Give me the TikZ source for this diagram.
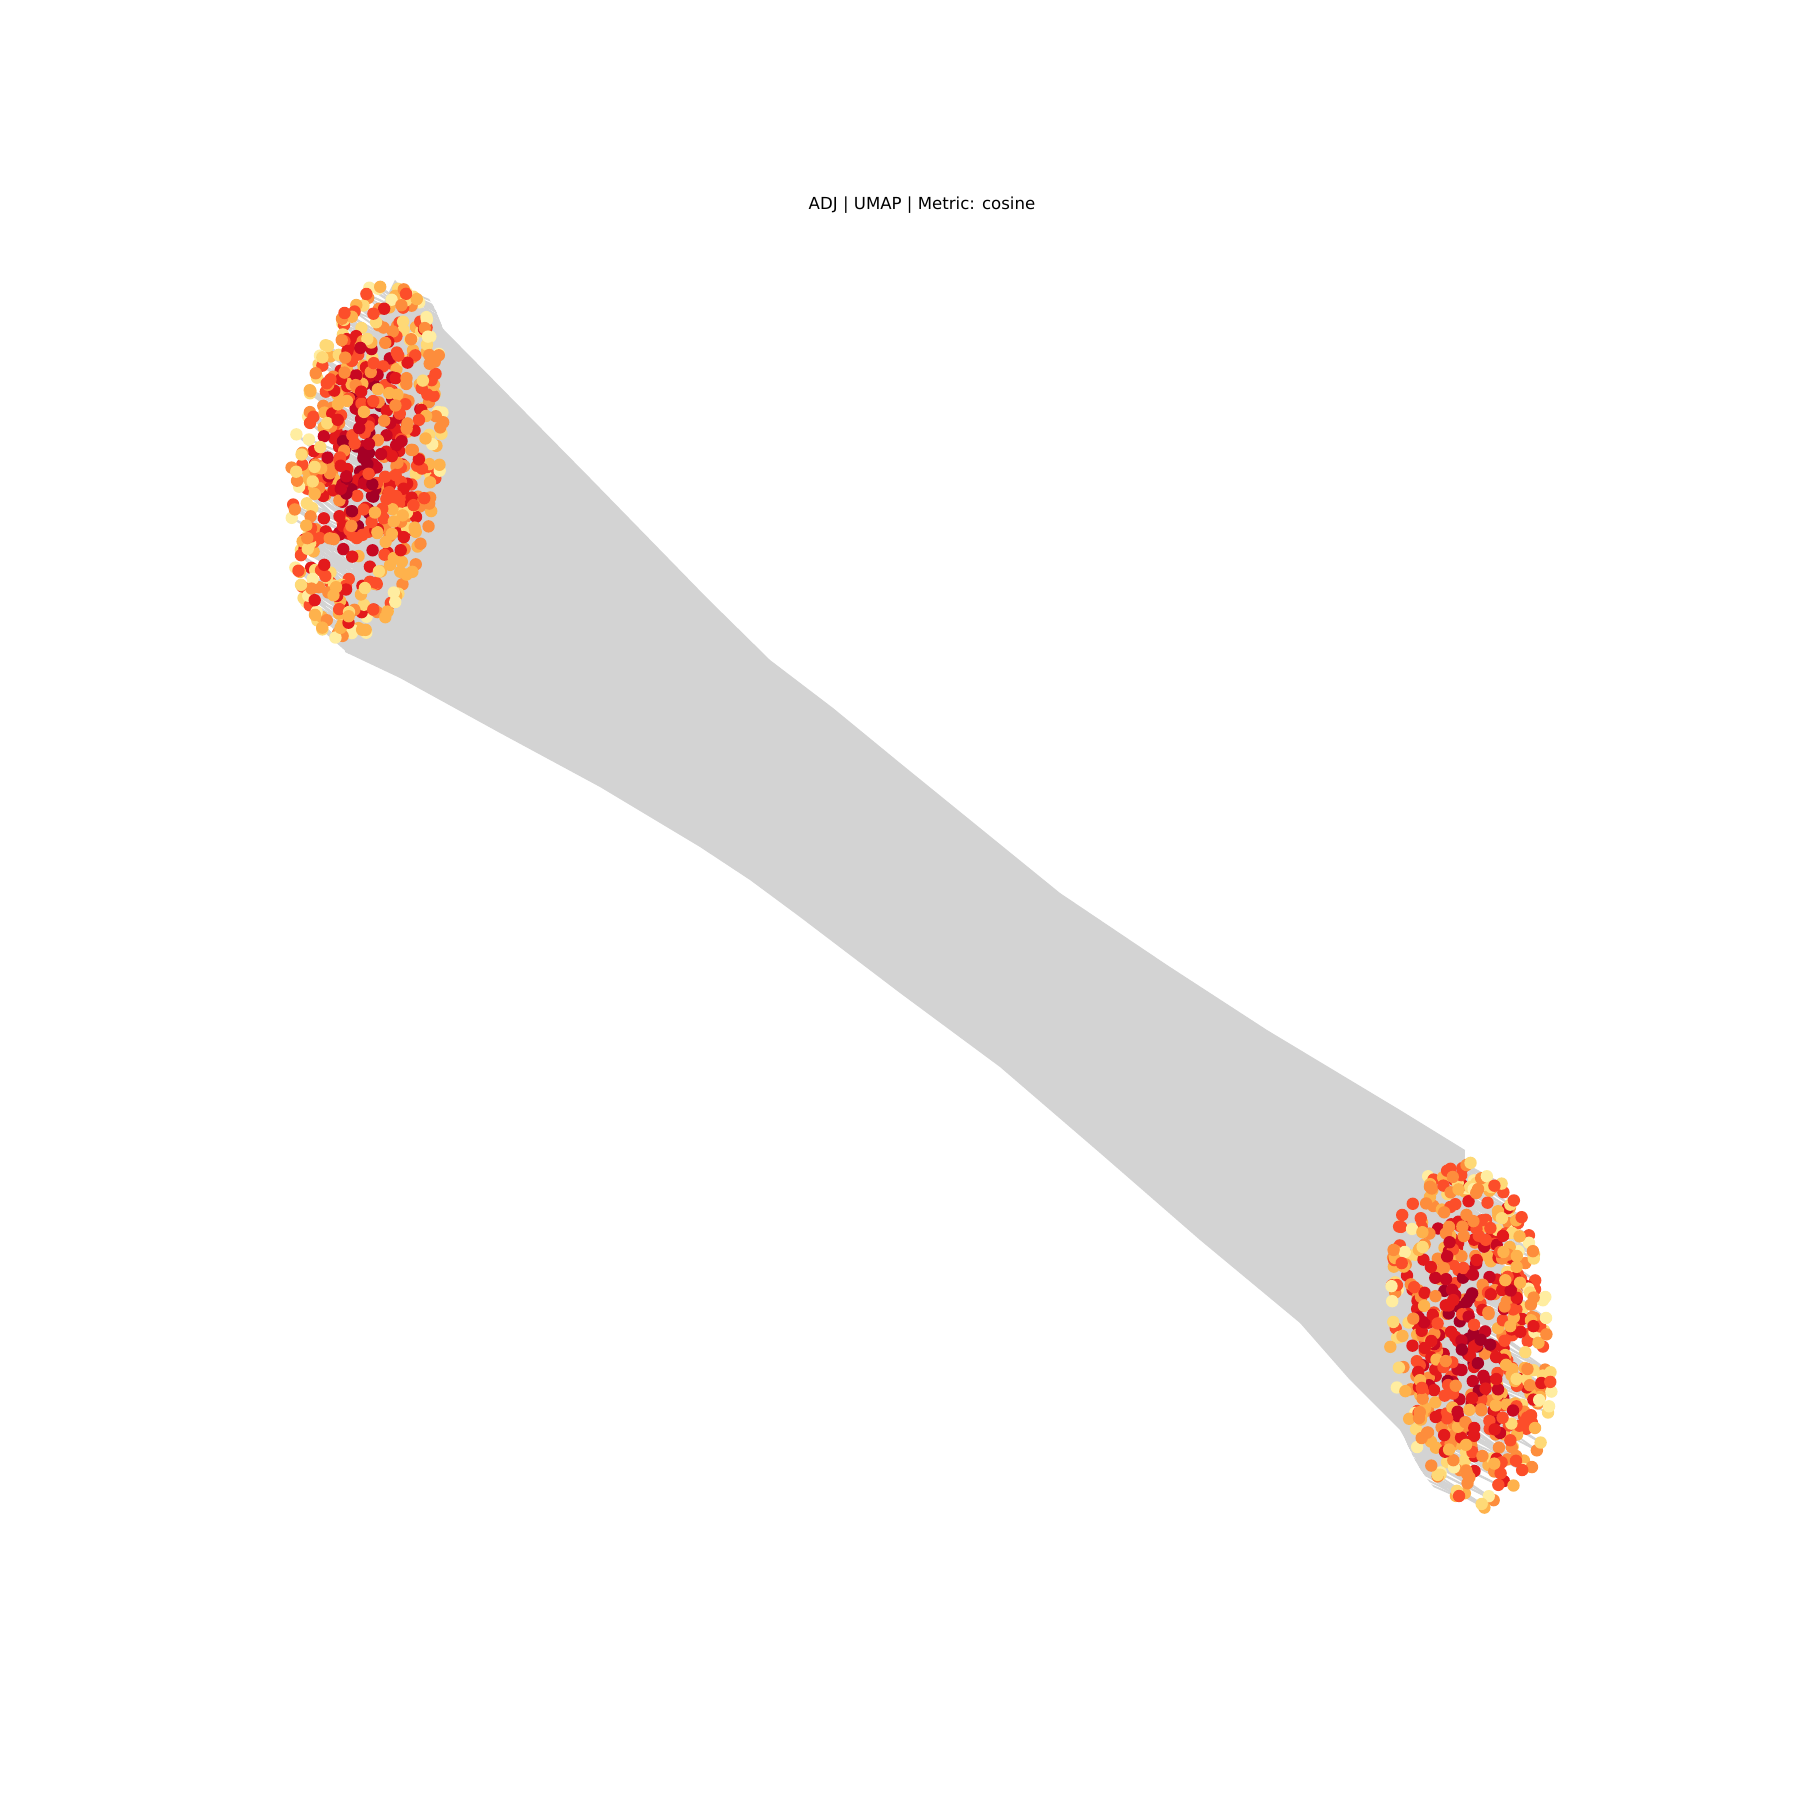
\documentclass[tikz,border=0pt]{standalone}
\usepackage{fontspec}
\setmainfont{DejaVu Sans}
\definecolor{band}{HTML}{D3D3D3}
\definecolor{yl0}{HTML}{FFEDA0}
\definecolor{yl1}{HTML}{FED976}
\definecolor{yl2}{HTML}{FEB24C}
\definecolor{yl3}{HTML}{FD8D3C}
\definecolor{yl4}{HTML}{FC4E2A}
\definecolor{yl5}{HTML}{E31A1C}
\definecolor{yl6}{HTML}{C80822}
\definecolor{yl7}{HTML}{A50026}
\newcommand\genpt[5]{%
  \pgfmathsetmacro\myR{sqrt(rnd)}%
  \pgfmathsetmacro\myT{360*rnd}%
  \pgfmathsetmacro\myX{#1+#3*\myR*cos(\myT)+#5*\myR*sin(\myT)}%
  \pgfmathsetmacro\myY{#2+#4*\myR*sin(\myT)}%
  \pgfmathtruncatemacro\myC{max(0,min(7,4.5*(1-\myR)+5*rnd-0.2))}%
  \pgfmathsetmacro\myA{22+23*rnd}%
  \pgfmathsetmacro\myB{22+23*rnd}%
}
\tikzset{
  edge/.style={draw=band, line width=0.018cm},
  dot/.style={fill=yl#1},
  titletext/.style={font=\fontsize{4.72}{5.6}\selectfont, text=black, inner sep=0pt}
}
\begin{document}
\begin{tikzpicture}
\useasboundingbox (0,0) rectangle (18,18);
\fill[white] (0,0) rectangle (18,18);
% band of connecting edges
\fill[band] (3.95,15.20) -- (5.90,13.22) -- (7.07,12.02) -- (7.70,11.40)
  -- (8.33,10.92) -- (9.00,10.37) -- (10.60,9.07) -- (11.67,8.35) -- (12.67,7.70)
  -- (14.00,6.90) -- (14.65,6.50)
  -- (14.60,5.00) -- (14.60,3.60) -- (14.20,3.35)
  -- (14.00,3.70) -- (13.50,4.20) -- (13.00,4.77) -- (12.00,5.60) -- (11.00,6.47)
  -- (10.00,7.33) -- (9.00,8.07) -- (8.00,8.83) -- (7.50,9.20) -- (7.00,9.53)
  -- (6.00,10.13) -- (5.00,10.67) -- (4.00,11.22) -- (3.45,11.48)
  -- (3.50,12.00) -- (3.65,13.50) -- (3.75,14.80) -- cycle;
% left cluster edges
\begin{scope}
\clip plot[domain=0:360, samples=72] ({3.67+0.86*cos(\x)+0.199*sin(\x)}, {13.38+1.92*sin(\x)}) -- cycle;
\pgfmathsetseed{4242}
\foreach \i in {1,...,580}{
  \genpt{3.67}{13.38}{0.75}{1.80}{0.199}
  \draw[edge] (\myX,\myY) -- ++(-\myA:3);
  \draw[edge] (\myX,\myY) -- ++(-\myB:3);
}
\end{scope}
% left cluster dots
\pgfmathsetseed{4242}
\foreach \i in {1,...,580}{
  \genpt{3.67}{13.38}{0.75}{1.80}{0.199}
  \fill[dot=\myC] (\myX,\myY) circle (0.062);
}
% right cluster edges
\begin{scope}
\clip plot[domain=0:360, samples=72] ({14.70+0.89*cos(\x)-0.127*sin(\x)}, {4.68+1.83*sin(\x)}) -- cycle;
\pgfmathsetseed{777}
\foreach \i in {1,...,580}{
  \genpt{14.70}{4.68}{0.82}{1.76}{-0.127}
  \draw[edge] (\myX,\myY) -- ++({170-0.6*\myA}:3);
  \draw[edge] (\myX,\myY) -- ++({170-0.6*\myB}:3);
}
\end{scope}
% right cluster dots
\pgfmathsetseed{777}
\foreach \i in {1,...,580}{
  \genpt{14.70}{4.68}{0.82}{1.76}{-0.127}
  \fill[dot=\myC] (\myX,\myY) circle (0.062);
}
\node[titletext] (title) at (9.22,15.95) {ADJ | UMAP | Metric: cosine};
\end{tikzpicture}
\end{document}
